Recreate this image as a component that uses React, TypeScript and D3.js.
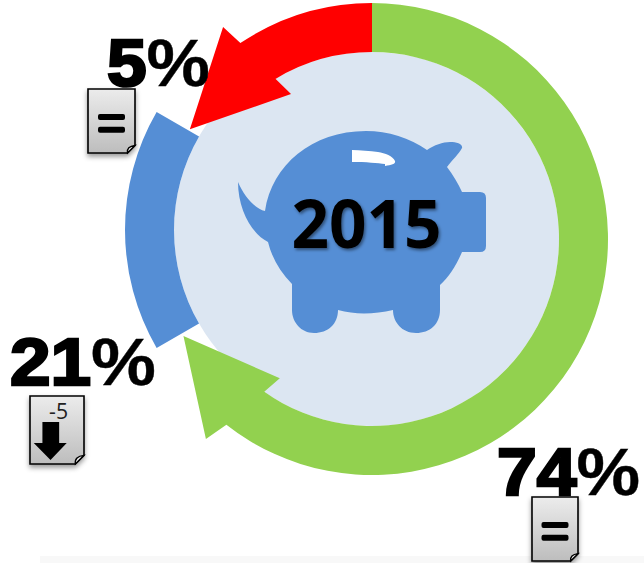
import * as d3 from "d3";

const years = ["2015"];
const shareNumbers = ["74", "5", "21"];
const trends = ["=", "=", "-5"];
// the sweeps are what the picture draws, it is not to scale with the shares
const sweeps = [240, 60, 60];
const colors = ["#92d14f", "#558ed5", "#ff0000"];

const width = 644;
const height = 563;
const cx = 372;
const cy = 239;
const outerR = 236;
const innerR = 187;
const explode = { x: -11, y: -9 };

const rad = (deg: number) => (deg * Math.PI) / 180;
const polar = (deg: number, r: number): [number, number] => [
  cx + r * Math.sin(rad(deg)),
  cy - r * Math.cos(rad(deg)),
];
// d3.path arc counts from 3 o'clock, the pie from 12 o'clock
const toCanvas = (deg: number) => rad(deg - 90);

// [angle, radius] of the arrow heads, outer neck to inner neck
const greenHead: [number, number][] = [[219.7, 260], [242.8, 212], [213.5, 167], [215.3, 188.5]];
const redHead: [number, number][] = [[324.9, 259], [301.1, 212.7], [330.8, 166], [328.9, 187.5]];

function arrowPath(from: number, neckOuter: number, neckInner: number, head: [number, number][], ccw: boolean) {
  const p = d3.path();
  p.moveTo(...polar(from, outerR));
  p.arc(cx, cy, outerR, toCanvas(from), toCanvas(neckOuter), ccw);
  head.forEach((h) => p.lineTo(...polar(h[0], h[1])));
  p.arc(cx, cy, innerR, toCanvas(neckInner), toCanvas(from), !ccw);
  p.closePath();
  return p.toString();
}

const pigPath =
  "M265 211 C272 165 312 131 366 131 C388 131 410 138 427 150 C434 145 443 142 450 142 C457 142 463 144 462 148 C459 154 452 160 447 167 C453 175 458 183 462 192 L480 192 Q486 192 486 198 L486 246 Q486 252 480 252 L462 252 C456 266 449 277 440 285 L440 310 C440 324 430 333 416 333 C402 333 393 322 393 310 C375 314 356 315 338 310 C338 324 328 333 314 333 C301 333 292 322 292 310 L292 284 C280 272 272 258 268 242 C252 234 238 210 238 182 C244 196 254 208 265 211 Z";
const shinePath = "M352 150 L352 162 C366 162 378 163 385 164 L385 166 C391 165 396 164 395 161 C393 156 385 153 378 152 C370 151 360 150 352 150 Z";

function DocIcon({ x, y, w, h, trend }: { x: number; y: number; w: number; h: number; trend: string }) {
  const fold = w * 0.16;
  return (
    <g transform={`translate(${x},${y})`}>
      <path
        d={`M0 0H${w}V${h - fold}L${w - fold} ${h}H0Z`}
        fill="url(#docFill)"
        stroke="#000"
        strokeWidth={1.6}
        filter="url(#docShadow)"
      />
      <path d={`M${w} ${h - fold}L${w - fold} ${h}Q${w - fold - 1} ${h - fold + 1} ${w} ${h - fold}Z`} fill="#eee" stroke="#000" strokeWidth={1.4} />
      {trend === "=" ? (
        <g fill="#000">
          <rect x={w / 2 - 13.5} y={h * 0.39} width={27} height={6} rx={2} />
          <rect x={w / 2 - 13.5} y={h * 0.59} width={27} height={6} rx={2} />
        </g>
      ) : (
        <g>
          <text
            x={w * 0.53}
            y={23}
            textAnchor="middle"
            fontFamily="'Open Sans', sans-serif"
            fontSize={22}
            fill="#222"
            textLength={19}
            lengthAdjust="spacingAndGlyphs"
          >
            {trend}
          </text>
          <path d={`M${w * 0.23} 26H${w * 0.54}V47H${w * 0.68}L${w * 0.38} 64L${w * 0.07} 47H${w * 0.23}Z`} fill="#000" />
        </g>
      )}
    </g>
  );
}

const labelLayout = [
  { x: 497, base: 495, len: 143 },
  { x: 107, base: 86, len: 103 },
  { x: 10, base: 385, len: 146 },
];
const iconLayout = [
  { x: 532, y: 497, w: 46, h: 64 },
  { x: 88, y: 89, w: 47, h: 64 },
  { x: 30, y: 396, w: 54, h: 68 },
];

export default function App() {
  const slices = d3.pie<number>().sort(null).value((d) => d)(sweeps);
  const [green, blue, red] = slices;
  const bandArc = d3.arc<d3.PieArcDatum<number>>().innerRadius(innerR).outerRadius(outerR);
  const coreArc = d3.arc<d3.PieArcDatum<number>>().innerRadius(0).outerRadius(innerR);
  const toDeg = (a: number) => (a * 180) / Math.PI;
  // the light core runs on under both arrow heads so no white wedge is left
  const coreSlice = { ...blue, startAngle: blue.startAngle - rad(15), endAngle: blue.endAngle + rad(15) };

  return (
    <svg width={width} height={height} style={{ position: "absolute", left: 0, top: 0, background: "#fff" }}>
      <defs>
        <linearGradient id="docFill" x1="0" y1="0" x2="0" y2="1">
          <stop offset="0" stopColor="#ececec" />
          <stop offset="1" stopColor="#bdbdbd" />
        </linearGradient>
        <filter id="docShadow" x="-20%" y="-20%" width="140%" height="140%">
          <feDropShadow dx={0} dy={3} stdDeviation={2.5} floodColor="#000" floodOpacity={0.4} />
        </filter>
        <filter id="yearShadow" x="-10%" y="-10%" width="120%" height="130%">
          <feDropShadow dx={1.5} dy={2} stdDeviation={1.5} floodColor="#000" floodOpacity={0.45} />
        </filter>
      </defs>

      <rect x={40} y={556} width={604} height={7} fill="#f8f8f8" />

      <circle cx={cx} cy={cy} r={innerR} fill="#dce6f2" />
      <path d={coreArc(coreSlice) ?? ""} transform={`translate(${cx + explode.x},${cy + explode.y})`} fill="#dce6f2" />
      <path d={bandArc(blue) ?? ""} transform={`translate(${cx + explode.x},${cy + explode.y})`} fill={colors[1]} />
      <path d={arrowPath(toDeg(green.startAngle), 218.1, 215.3, greenHead, false)} fill={colors[0]} />
      <path d={arrowPath(toDeg(red.endAngle), 326.1, 328.9, redHead, true)} fill={colors[2]} />

      <path d={pigPath} fill={colors[1]} />
      <path d={shinePath} fill="#fff" />
      <text
        x={366.5}
        y={248}
        textAnchor="middle"
        fontFamily="'Open Sans', sans-serif"
        fontWeight={700}
        fontSize={66}
        textLength={150}
        lengthAdjust="spacingAndGlyphs"
        filter="url(#yearShadow)"
      >
        {years[0]}
      </text>

      {shareNumbers.map((s, i) => (
        <text
          key={s}
          x={labelLayout[i].x}
          y={labelLayout[i].base}
          fontFamily="'Liberation Sans', Arial, sans-serif"
          fontWeight={700}
          fontSize={67}
          textLength={labelLayout[i].len}
          lengthAdjust="spacingAndGlyphs"
        >
          <tspan stroke="#000" strokeWidth={2.6}>{s}</tspan>
          <tspan stroke="#000" strokeWidth={0.4}>%</tspan>
        </text>
      ))}
      {trends.map((t, i) => (
        <DocIcon key={i} trend={t} {...iconLayout[i]} />
      ))}
    </svg>
  );
}
